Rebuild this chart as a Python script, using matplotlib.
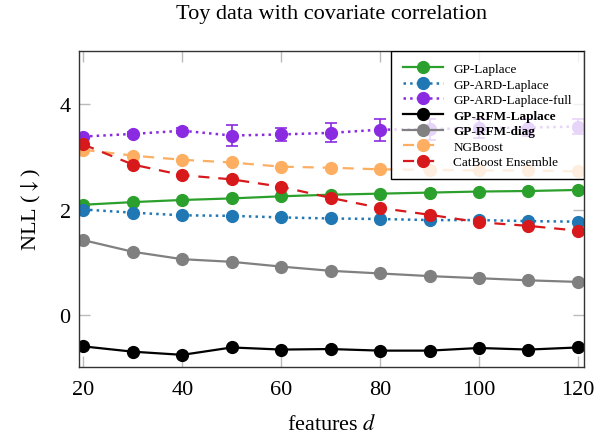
import numpy as np
import matplotlib.pyplot as plt
from matplotlib.patches import Rectangle

plt.rcParams['font.family'] = ['Liberation Serif', 'DejaVu Serif']
plt.rcParams['mathtext.fontset'] = 'stix'

d = [20, 30, 40, 50, 60, 70, 80, 90, 100, 110, 120]

gp_laplace = [2.09, 2.14, 2.18, 2.21, 2.25, 2.28, 2.30, 2.32, 2.34, 2.35, 2.37]
gp_ard = [2.00, 1.94, 1.89, 1.88, 1.85, 1.83, 1.82, 1.80, 1.80, 1.78, 1.77]
gp_ard_full = [3.38, 3.43, 3.49, 3.40, 3.42, 3.45, 3.51, 3.52, 3.54, 3.55, 3.57]
gp_ard_full_err = [0.03, 0.04, 0.05, 0.19, 0.13, 0.18, 0.21, 0.20, 0.18, 0.16, 0.15]
gp_rfm_laplace = [-0.59, -0.69, -0.75, -0.61, -0.65, -0.64, -0.67, -0.67, -0.62, -0.65, -0.61]
gp_rfm_diag = [1.42, 1.20, 1.06, 1.01, 0.92, 0.84, 0.79, 0.74, 0.70, 0.66, 0.63]
ngboost = [3.13, 3.02, 2.94, 2.89, 2.81, 2.79, 2.76, 2.75, 2.74, 2.74, 2.72]
catboost = [3.23, 2.85, 2.65, 2.57, 2.43, 2.22, 2.03, 1.90, 1.76, 1.69, 1.60]

fig = plt.figure(figsize=(6.09, 4.39), dpi=100)
ax = fig.add_axes([0.1297, 0.1617, 0.829, 0.72])

ms = 8.5
ax.plot(d, gp_laplace, '-o', color='#2ca02c', lw=1.6, ms=ms, label='GP-Laplace')
ax.plot(d, gp_ard, ':o', color='#1f77b4', lw=1.8, ms=ms, label='GP-ARD-Laplace')
ax.errorbar(d, gp_ard_full, yerr=gp_ard_full_err, fmt='none', ecolor='#8a2be2',
            capsize=4, elinewidth=1.2, capthick=1.2)
ax.plot(d, gp_ard_full, ':o', color='#8a2be2', lw=1.8, ms=ms, label='GP-ARD-Laplace-full')
ax.plot(d, gp_rfm_laplace, '-o', color='black', lw=1.6, ms=ms, label='GP-RFM-Laplace')
ax.plot(d, gp_rfm_diag, '-o', color='#808080', lw=1.6, ms=ms, label='GP-RFM-diag')
ax.plot(d, ngboost, '--o', color='#fdae61', lw=1.6, ms=ms, dashes=(5, 4), label='NGBoost')
ax.plot(d, catboost, '--o', color='#d7191c', lw=1.6, ms=ms, dashes=(5, 4), label='CatBoost Ensemble')

ax.set_xlim(19.1, 121.2)
ax.set_ylim(-0.98, 5.0)
ax.set_xticks([20, 40, 60, 80, 100, 120])
ax.set_yticks([0, 2, 4])
ax.tick_params(direction='in', length=8, width=1, color='#bbbbbb',
               top=True, right=True, labelsize=16)
ax.tick_params(axis='x', pad=9)
ax.tick_params(axis='y', pad=6)
for s in ax.spines.values():
    s.set_color('#333333')
    s.set_linewidth(1.0)

ax.set_xlabel('features $d$', fontsize=16, labelpad=11)
ax.set_ylabel(r'NLL ($\downarrow$)', fontsize=16, labelpad=12)
ax.set_title('Toy data with covariate correlation', fontsize=16, pad=24)

# legend box drawn separately so it can be a bit taller than the entries
box = Rectangle((0.618, 0.595), 0.382, 0.405, transform=ax.transAxes,
                facecolor=(1, 1, 1, 0.8), edgecolor='black', lw=1.0, zorder=4)
ax.add_patch(box)
leg = ax.legend(loc='upper right', fontsize=9.5, frameon=False,
                borderaxespad=0, labelspacing=0.25,
                handlelength=3.0, borderpad=0.9, handletextpad=0.8)
leg.set_zorder(5)
for t in leg.get_texts():
    if t.get_text().startswith('GP-RFM'):
        t.set_fontweight('bold')

fig.savefig('out.png', dpi=100)
